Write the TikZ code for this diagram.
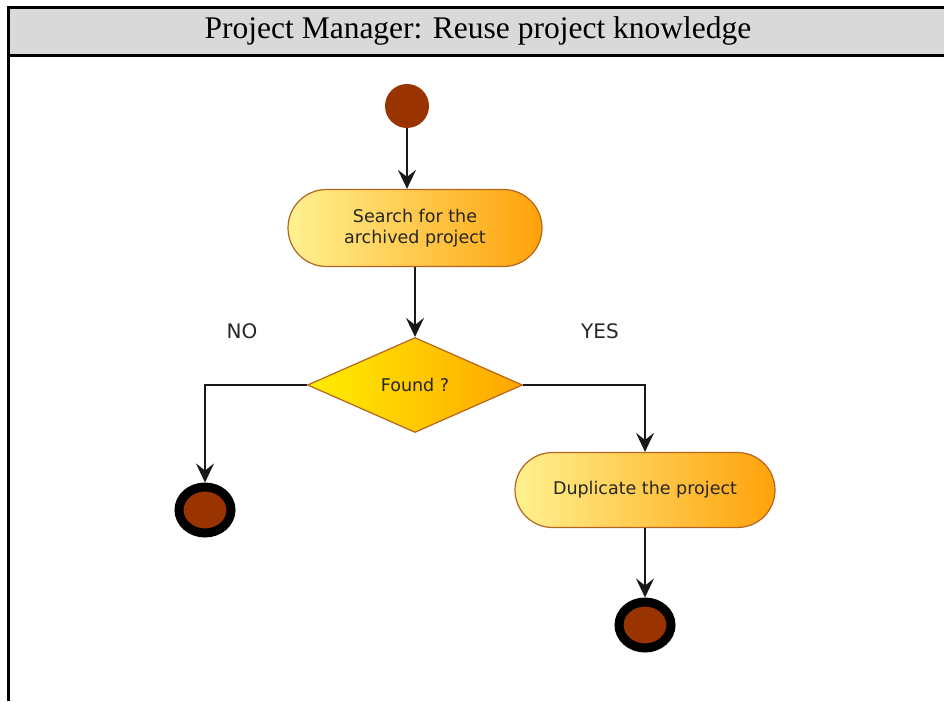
\documentclass[tikz,border=0pt]{standalone}
\usepackage{fontspec}
\setmainfont{Liberation Serif}
\newfontfamily\diagfont{DejaVu Sans}
\usetikzlibrary{shapes.geometric,shapes.misc,arrows.meta}
\definecolor{framegray}{HTML}{D9D9D9}
\definecolor{startbrown}{HTML}{993300}
\definecolor{actborder}{HTML}{B5651D}
\definecolor{actleft}{HTML}{FFF190}
\definecolor{actright}{HTML}{FFA20A}
\definecolor{decleft}{HTML}{FFEE00}
\definecolor{decright}{HTML}{FFA500}
\tikzset{
  actbox/.style={rounded rectangle, draw=actborder, line width=1.2pt,
    left color=actleft, right color=actright, font=\diagfont\fontsize{17.5}{21}\selectfont,
    text=black!85, align=center, inner sep=0pt},
  decbox/.style={diamond, draw=actborder, line width=1.2pt, left color=decleft, right color=decright,
    minimum width=215pt, minimum height=95pt, aspect=2.26, inner sep=0pt,
    font=\diagfont\fontsize{17.5}{21}\selectfont, text=black!85},
  startdot/.style={circle, fill=startbrown, minimum size=44pt, inner sep=0pt},
  enddot/.style={ellipse, fill=startbrown, draw=black, line width=9pt,
    minimum width=52pt, minimum height=46pt, inner sep=0pt},
  flow/.style={line width=1.6pt, draw=black!90, -{Stealth[length=19pt,width=18pt,inset=7pt]}},
  lbl/.style={font=\diagfont\fontsize{20}{24}\selectfont, text=black!85},
  framel/.style={line width=3pt, draw=black}
}
\begin{document}
\begin{tikzpicture}[x=1pt,y=-1pt]
\useasboundingbox (0,0) rectangle (944,701);
\fill[framegray] (8,8) rectangle (944,56);
\draw[framel] (944,8) -- (8,8) -- (8,701);
\draw[framel] (8,56) -- (944,56);
\node[font=\fontsize{31.5}{36}\selectfont] (title) at (478,31) {Project Manager: Reuse project knowledge};

\node[startdot] (start) at (407,106) {};
\node[actbox, minimum width=254pt, minimum height=77pt] (search) at (415,228) {Search for the\\archived project};
\node[decbox] (found) at (415,385) {Found ?};
\node[actbox, minimum width=260pt, minimum height=75pt] (dup) at (645,490) {\raisebox{-2pt}{Duplicate the project}};
\node[enddot] (endno) at (205,510) {};
\node[enddot] (endyes) at (645,625) {};
\node[lbl] (no) at (242,331) {NO};
\node[lbl] (yes) at (600,331) {YES};

\draw[flow] (start.south) -- (start.south |- search.north);
\draw[flow] (search.south) -- (found.north);
\draw[flow] (found.west) -| (endno.north);
\draw[flow] (found.east) -| (dup.north);
\draw[flow] (dup.south) -- (endyes.north);
\end{tikzpicture}
\end{document}
